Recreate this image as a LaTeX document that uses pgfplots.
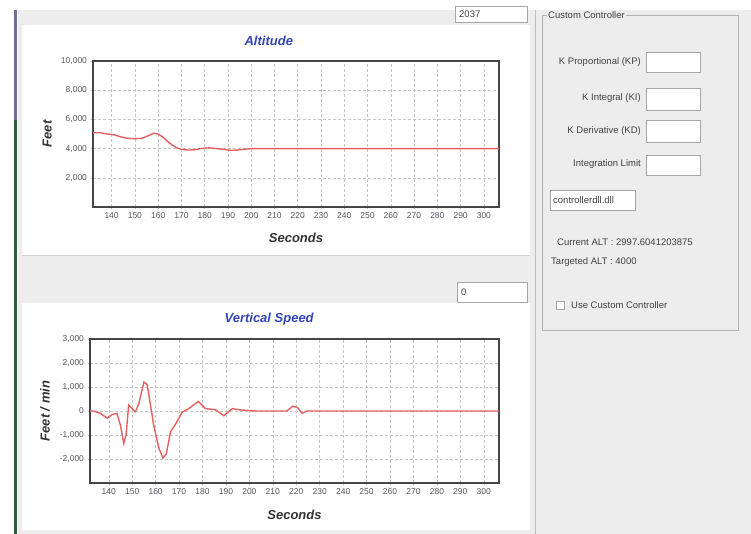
\documentclass[border=0pt]{standalone}
\usepackage{fontspec}
\setmainfont{Liberation Sans}
\usepackage{pgfplots}
\pgfplotsset{compat=1.18}
\definecolor{guibg}{RGB}{237,237,237}
\definecolor{plotred}{RGB}{232,95,95}
\definecolor{titleblue}{RGB}{50,70,185}
\definecolor{ticktxt}{RGB}{85,85,100}
\definecolor{framegray}{RGB}{70,70,70}
\definecolor{linebluegray}{RGB}{110,110,160}
\definecolor{linegreen}{RGB}{45,95,55}

\pgfplotsset{guichart/.style={
  scale only axis, anchor=south west,
  xmin=132, xmax=306.5,
  xtick={140,150,...,300},
  axis line style={draw=framegray, line width=1.6pt},
  grid=major, major grid style={densely dashed, draw=gray!45, line width=0.5pt},
  tick align=outside, major tick length=2.5pt, tick style={draw=gray!60, line width=0.5pt},
  xtick pos=left, ytick pos=left,
  ticklabel style={font=\fontsize{8.5}{9}\selectfont, text=ticktxt},
  /pgf/number format/assume math mode=true,
  /pgf/number format/1000 sep={,},
  scaled y ticks=false,
  title style={font=\fontsize{13}{15}\selectfont\bfseries\itshape, text=titleblue, anchor=center},
  label style={font=\fontsize{13}{15}\selectfont\bfseries\itshape, text=black!80},
}}
\tikzset{field/.style={draw=gray!70, fill=white, line width=0.6pt},
  gui/.style={font=\fontsize{9.5}{11}\selectfont, text=black!75, inner sep=0pt}}

\begin{document}
\begin{tikzpicture}[x=1pt,y=1pt]
% GUI background
\fill[white] (0,0) rectangle (751,534);
\fill[guibg] (18,0) rectangle (751,524);
\draw[linebluegray, line width=3pt] (15,524) -- (15,414);
\draw[linegreen, line width=3pt] (15,414) -- (15,0);
% chart panels
\fill[white] (22,279) rectangle (530,509);
\fill[white] (22,4) rectangle (530,231);
\draw[gray!35] (22,279) -- (530,279);
% text fields above charts
\draw[field] (455,512) rectangle (527,528);
\node[gui, anchor=west] at (459,520) {2037};
\draw[field] (457,232) rectangle (527,252);
\node[gui, anchor=west] at (461,242) {0};
% right panel
\draw[gray!50] (535,0) -- (535,524);
\draw[gray!60] (542,204) rectangle (738,519);
\node[gui, anchor=west, fill=guibg, inner xsep=1pt] at (547,519) {Custom Controller};
\node[gui, anchor=east] at (641,472) {K Proportional (KP)};
\node[gui, anchor=east] at (641,436) {K Integral (KI)};
\node[gui, anchor=east] at (641,403) {K Derivative (KD)};
\node[gui, anchor=east] at (641,370) {Integration Limit};
\draw[field] (646,462) rectangle (700,482);
\draw[field] (646,424) rectangle (700,446);
\draw[field] (646,392) rectangle (700,414);
\draw[field] (646,359) rectangle (700,379);
\draw[field] (550,324) rectangle (635,344);
\node[gui, anchor=west] at (553,334) {controllerdll.dll};
\node[gui, anchor=west] at (557,292) {Current ALT : 2997.6041203875};
\node[gui, anchor=west] at (551,272) {Targeted ALT : 4000};
\draw[field] (556,225) rectangle (564,233);
\node[gui, anchor=west] at (571,229) {Use Custom Controller};

% Altitude chart
\begin{axis}[guichart, at={(93pt,327pt)}, width=406pt, height=146pt,
  ymin=0, ymax=10000, ytick={2000,4000,...,10000},
  title={Altitude}, title style={at={(axis description cs:0.433,1.096)}},
  xlabel={Seconds}, xlabel style={at={(axis description cs:0.5,-0.212)}, anchor=center},
  ylabel={Feet}, ylabel style={at={(axis description cs:-0.113,0.5)}, anchor=center}]
\addplot[plotred, line width=1.4pt] coordinates {
(132,5080) (135,5090) (138,5000) (141,4950) (144,4800) (147,4700) (150,4680)
(153,4700) (156,4900) (158,5050) (160,5000) (162,4800) (164,4500) (166,4250)
(168,4050) (170,3950) (173,3900) (176,3920) (178,4000) (182,4050) (185,4000)
(188,3950) (191,3880) (194,3900) (197,3950) (200,4000) (306.5,4000)};
\end{axis}

% Vertical speed chart
\begin{axis}[guichart, at={(90pt,51pt)}, width=409pt, height=144pt,
  ymin=-3000, ymax=3000, ytick={-2000,-1000,...,3000},
  title={Vertical Speed}, title style={at={(axis description cs:0.438,1.097)}},
  xlabel={Seconds}, xlabel style={at={(axis description cs:0.5,-0.222)}, anchor=center},
  ylabel={Feet / min}, ylabel style={at={(axis description cs:-0.110,0.5)}, anchor=center}]
\addplot[plotred, line width=1.4pt] coordinates {
(132,0) (133.6,0) (136.5,-100) (139.3,-300) (141.4,-150) (143.5,-100) (145,-600)
(146.4,-1350) (147.4,-1000) (148.5,250) (150.4,50) (151.4,-30) (152.8,300)
(155,1200) (156.4,1100) (157.8,250) (159.2,-600) (161.4,-1550) (163.1,-1950)
(164.5,-1800) (166.4,-850) (168.5,-550) (171.3,-50) (174.2,100) (178.2,400)
(181.3,100) (185.6,50) (189.1,-200) (192.7,100) (195.6,50) (202.7,0)
(216,0) (218.5,200) (220.5,150) (222.5,-100) (224.5,0) (306.5,0)};
\end{axis}
\pgfresetboundingbox
\useasboundingbox (0,0) rectangle (751,534);
\end{tikzpicture}
\end{document}
